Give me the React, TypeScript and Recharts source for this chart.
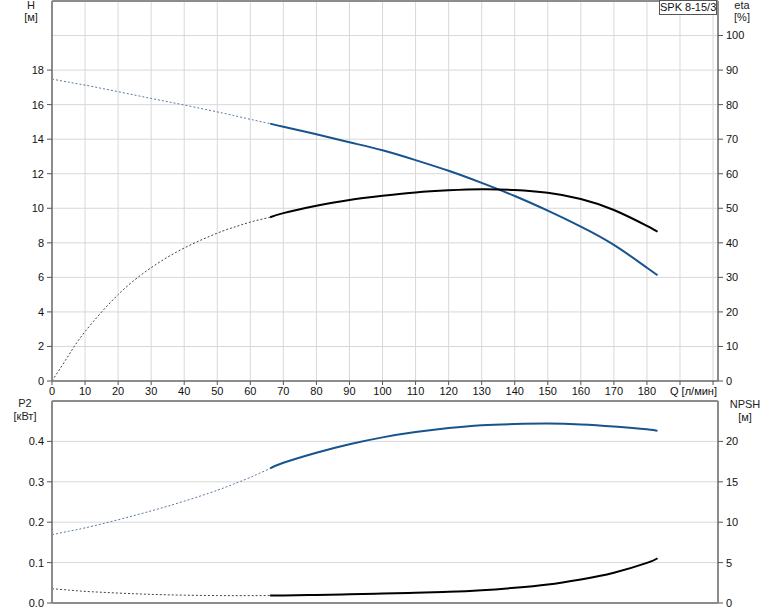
import { CartesianGrid, Line, LineChart, ReferenceLine, XAxis, YAxis } from "recharts";

// flow rate Q [л/мин]
const Q_DOT = [0, 5, 10, 20, 30, 40, 50, 55, 60, 66];
const Q_SOLID = [66, 70, 80, 90, 100, 110, 120, 130, 140, 150, 160, 170, 180, 183.2];

// head H [м]
const H_DOT = [17.48, 17.3, 17.13, 16.75, 16.36, 15.98, 15.58, 15.37, 15.15, 14.9];
const H_SOLID = [14.9, 14.72, 14.28, 13.82, 13.36, 12.79, 12.17, 11.47, 10.71, 9.86, 8.94, 7.88, 6.56, 6.13];

// efficiency eta [%]
const ETA_DOT = [0, 7.4, 14.3, 25, 32.8, 38.5, 42.8, 44.5, 46, 47.4];
const ETA_SOLID = [47.4, 48.6, 50.7, 52.4, 53.6, 54.6, 55.2, 55.5, 55.3, 54.5, 52.7, 49.5, 44.9, 43.2];

// power P2 [кВт]
const P2_DOT = [0.169, 0.1775, 0.186, 0.206, 0.228, 0.252, 0.279, 0.2945, 0.311, 0.333];
const P2_SOLID = [0.333, 0.347, 0.372, 0.393, 0.41, 0.423, 0.433, 0.44, 0.443, 0.444, 0.442, 0.437, 0.43, 0.426];

// NPSH [м]
const NPSH_DOT = [1.77, 1.6, 1.44, 1.23, 1.07, 0.97, 0.92, 0.91, 0.91, 0.92];
const NPSH_SOLID = [0.92, 0.93, 1.0, 1.08, 1.17, 1.26, 1.38, 1.58, 1.88, 2.29, 2.92, 3.75, 4.96, 5.54];

const X_TICKS = [0, 10, 20, 30, 40, 50, 60, 70, 80, 90, 100, 110, 120, 130, 140, 150, 160, 170, 180, 190, 200];
const H_TICKS = [0, 2, 4, 6, 8, 10, 12, 14, 16, 18];
const ETA_TICKS = [0, 10, 20, 30, 40, 50, 60, 70, 80, 90, 100];
const P2_TICKS = [0, 0.1, 0.2, 0.3, 0.4];
const NPSH_TICKS = [0, 5, 10, 15, 20];

const FONT = "'Liberation Sans', Arial, sans-serif";
const AXIS = "#8c8c8c";
const GRID = "#d8d8d8";
const BLUE = "#17548f";
const BLUE_DOT = "#5a78a6";
const BLACK_DOT = "#444";
const tickStyle = { fontSize: 11, fill: "#111", fontFamily: FONT };

const zip = (qs: number[], vs: number[]) => qs.map((q, i) => ({ q, v: vs[i] }));

function QTick({ x, y, payload }: any) {
  const v = payload.value;
  if (v === 200) return null;
  if (v === 190)
    return (
      <text x={x - 10} y={y} dy="0.71em" textAnchor="start" style={tickStyle}>
        Q [л/мин]
      </text>
    );
  return (
    <text x={x} y={y} dy="0.71em" textAnchor="middle" style={tickStyle}>
      {v}
    </text>
  );
}

function Caption({ x, y, text }: { x: number; y: number; text: string }) {
  return (
    <div
      style={{
        position: "absolute",
        left: x - 30,
        top: y,
        width: 60,
        textAlign: "center",
        fontSize: 11,
        lineHeight: "12px",
        fontFamily: FONT,
        color: "#222",
      }}
    >
      {text}
    </div>
  );
}

const dotted = { strokeWidth: 1, strokeDasharray: "2 2", dot: false, isAnimationActive: false, type: "natural" as const };
const solid = { strokeWidth: 2, dot: false, isAnimationActive: false, type: "natural" as const };

export default function App() {
  return (
    <div style={{ position: "absolute", left: 0, top: 0, width: 774, height: 611, background: "#fff", overflow: "hidden" }}>
      <div style={{ position: "absolute", left: 0, top: 0 }}>
        <LineChart width={774} height={400} margin={{ top: 1, right: 0, bottom: 0, left: 0 }}>
          <CartesianGrid stroke={GRID} yAxisId="eta" />
          <XAxis
            dataKey="q"
            type="number"
            domain={[0, 201.5]}
            ticks={X_TICKS}
            interval={0}
            allowDataOverflow
            height={19}
            tickSize={4}
            tickMargin={2}
            tick={<QTick />}
            axisLine={{ stroke: AXIS, strokeWidth: 2 }}
            tickLine={{ stroke: "#555" }}
          />
          <YAxis
            yAxisId="h"
            domain={[0, 22]}
            ticks={H_TICKS}
            interval={0}
            width={52}
            tickSize={5}
            tickMargin={3}
            tick={tickStyle}
            axisLine={{ stroke: AXIS, strokeWidth: 2 }}
            tickLine={{ stroke: "#555" }}
          />
          <YAxis
            yAxisId="eta"
            orientation="right"
            domain={[0, 110]}
            ticks={ETA_TICKS}
            interval={0}
            width={56}
            tickSize={5}
            tickMargin={3}
            tick={tickStyle}
            axisLine={{ stroke: AXIS, strokeWidth: 2 }}
            tickLine={{ stroke: "#555" }}
          />
          <ReferenceLine yAxisId="h" y={22} stroke={AXIS} strokeWidth={2} />
          <Line yAxisId="h" data={zip(Q_DOT, H_DOT)} dataKey="v" stroke={BLUE_DOT} {...dotted} />
          <Line yAxisId="h" data={zip(Q_SOLID, H_SOLID)} dataKey="v" stroke={BLUE} {...solid} />
          <Line yAxisId="eta" data={zip(Q_DOT, ETA_DOT)} dataKey="v" stroke={BLACK_DOT} {...dotted} />
          <Line yAxisId="eta" data={zip(Q_SOLID, ETA_SOLID)} dataKey="v" stroke="#000" {...solid} />
        </LineChart>
      </div>

      <div style={{ position: "absolute", left: 0, top: 400 }}>
        <LineChart width={774} height={211} margin={{ top: 1, right: 0, bottom: 0, left: 0 }}>
          <CartesianGrid stroke={GRID} yAxisId="p2" />
          <XAxis
            dataKey="q"
            type="number"
            domain={[0, 201.5]}
            ticks={X_TICKS}
            interval={0}
            allowDataOverflow
            height={8}
            tickSize={3}
            tick={false}
            axisLine={{ stroke: AXIS, strokeWidth: 2 }}
            tickLine={{ stroke: "#777" }}
          />
          <YAxis
            yAxisId="p2"
            domain={[0, 0.5]}
            ticks={P2_TICKS}
            interval={0}
            width={52}
            tickSize={5}
            tickMargin={3}
            tick={tickStyle}
            tickFormatter={(v: number) => v.toFixed(1)}
            axisLine={{ stroke: AXIS, strokeWidth: 2 }}
            tickLine={{ stroke: "#555" }}
          />
          <YAxis
            yAxisId="npsh"
            orientation="right"
            domain={[0, 25]}
            ticks={NPSH_TICKS}
            interval={0}
            width={56}
            tickSize={5}
            tickMargin={3}
            tick={tickStyle}
            axisLine={{ stroke: AXIS, strokeWidth: 2 }}
            tickLine={{ stroke: "#555" }}
          />
          <ReferenceLine yAxisId="p2" y={0.5} stroke={AXIS} strokeWidth={2} />
          <Line yAxisId="p2" data={zip(Q_DOT, P2_DOT)} dataKey="v" stroke={BLUE_DOT} {...dotted} />
          <Line yAxisId="p2" data={zip(Q_SOLID, P2_SOLID)} dataKey="v" stroke={BLUE} {...solid} />
          <Line yAxisId="npsh" data={zip(Q_DOT, NPSH_DOT)} dataKey="v" stroke={BLACK_DOT} {...dotted} />
          <Line yAxisId="npsh" data={zip(Q_SOLID, NPSH_SOLID)} dataKey="v" stroke="#000" {...solid} />
        </LineChart>
      </div>

      <Caption x={31} y={-1} text="H" />
      <Caption x={31} y={11} text="[м]" />
      <Caption x={742} y={-1} text="eta" />
      <Caption x={742} y={11} text="[%]" />
      <Caption x={25} y={397} text="P2" />
      <Caption x={25} y={410} text="[кВт]" />
      <Caption x={745} y={398} text="NPSH" />
      <Caption x={745} y={411} text="[м]" />

      <div
        style={{
          position: "absolute",
          left: 659,
          top: 0,
          width: 56,
          height: 13,
          border: "1px solid #555",
          background: "#fff",
          fontSize: 11,
          lineHeight: "13px",
          textAlign: "center",
          fontFamily: FONT,
          color: "#111",
          whiteSpace: "nowrap",
        }}
      >
        SPK 8-15/3
      </div>
    </div>
  );
}
